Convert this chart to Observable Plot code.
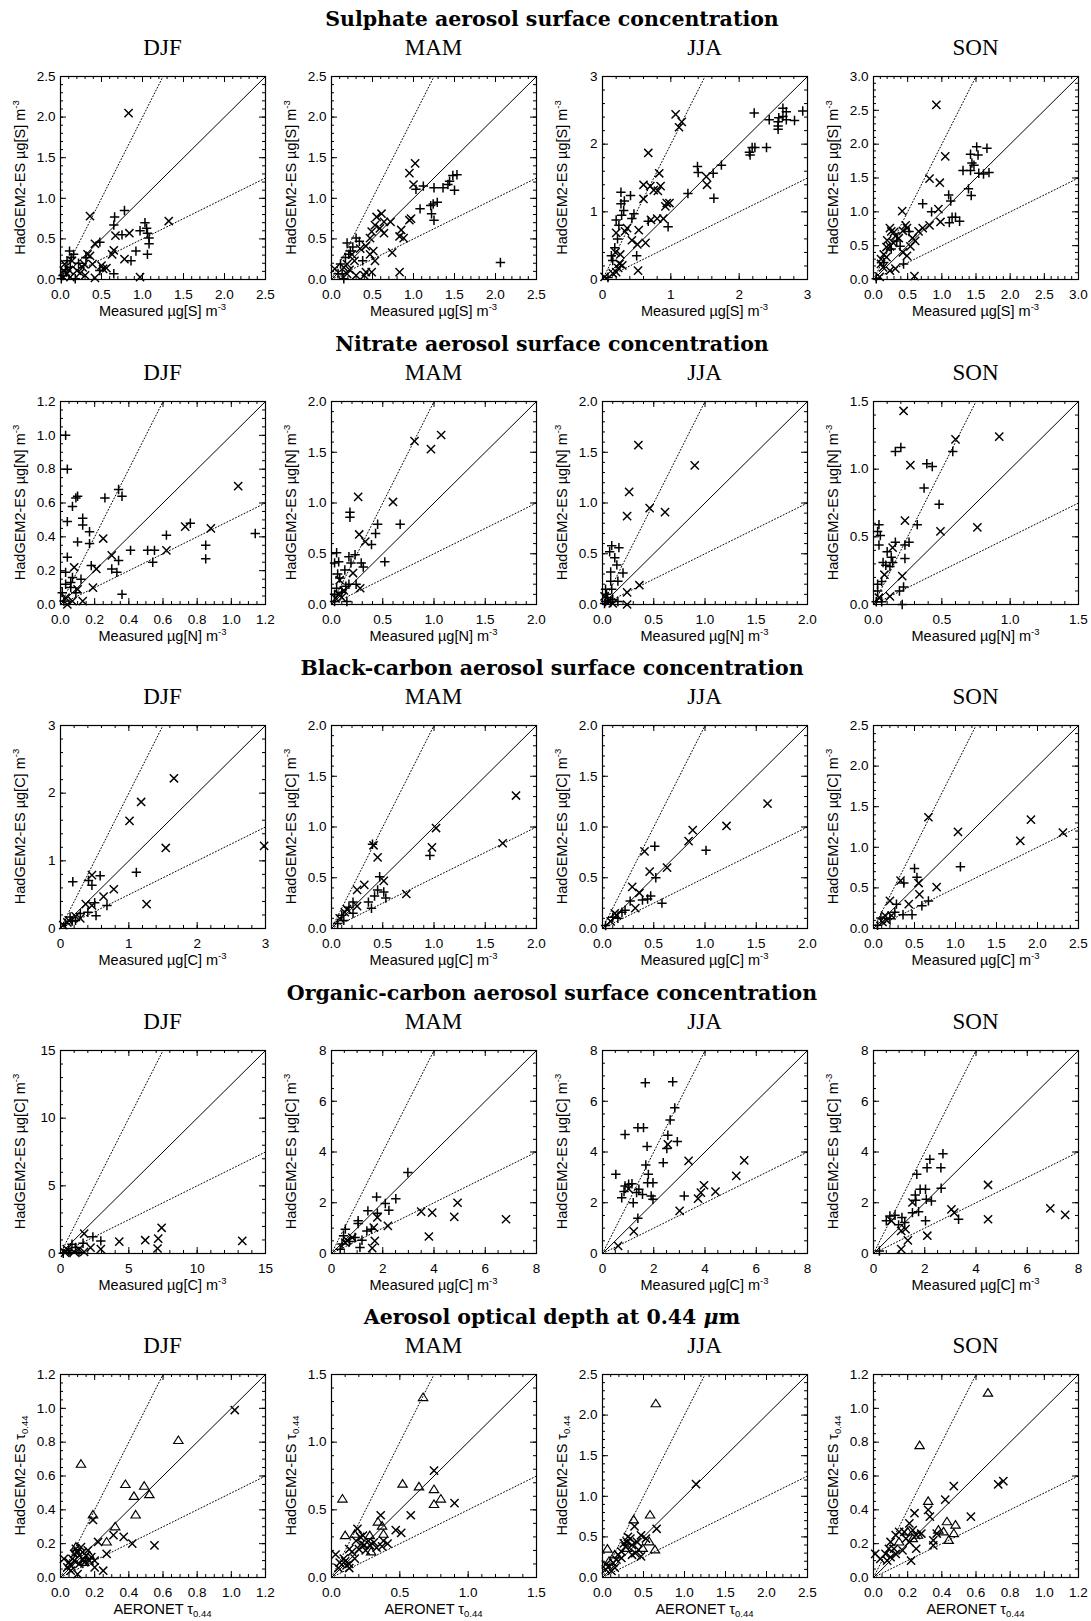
<!DOCTYPE html>
<html><head><meta charset="utf-8">
<script src="https://cdn.jsdelivr.net/npm/d3@7"></script>
<script src="https://cdn.jsdelivr.net/npm/@observablehq/plot@0.6"></script>
<style>
body{margin:0;background:#fff;}
#fig{position:relative;width:1091px;height:1621px;overflow:hidden;background:#fff;}
.rtitle{position:absolute;transform:translateX(-50%);white-space:nowrap;font-family:"DejaVu Serif",serif;font-weight:bold;font-size:20.5px;line-height:20px;color:#000;}
.season{position:absolute;transform:translateX(-50%);white-space:nowrap;font-family:"Liberation Serif",serif;font-size:23px;line-height:23px;color:#000;}
.panel{position:absolute;}
</style></head><body><div id="fig"></div>
<script>
// ---------- text ----------
const seasons = ["DJF", "MAM", "JJA", "SON"];
const rowTitles = [
  "Sulphate aerosol surface concentration",
  "Nitrate aerosol surface concentration",
  "Black-carbon aerosol surface concentration",
  "Organic-carbon aerosol surface concentration",
  "Aerosol optical depth at 0.44 <i>μ</i>m"
];
const rowSpecies = ["S", "N", "C", "C", null];

// ---------- axes (max, major step, minor step, label decimals) ----------
const axisMax   = [[2.5, 2.5, 3, 3], [1.2, 2, 2, 1.5], [3, 2, 2, 2.5], [15, 8, 8, 8], [1.2, 1.5, 2.5, 1.2]];
const majorStep = [[0.5, 0.5, 1, 0.5], [0.2, 0.5, 0.5, 0.5], [1, 0.5, 0.5, 0.5], [5, 2, 2, 2], [0.2, 0.5, 0.5, 0.2]];
const minorStep = [[0.1, 0.1, 0.2, 0.1], [0.05, 0.1, 0.1, 0.1], [0.2, 0.1, 0.1, 0.1], [1, 0.5, 0.5, 0.5], [0.05, 0.1, 0.1, 0.05]];
const tickDecimals = [[1, 1, 0, 1], [1, 1, 1, 1], [0, 1, 1, 1], [0, 0, 0, 0], [1, 1, 1, 1]];

// ---------- data: [measured, model] ----------
// Sulphate
const so4DjfPlus = [[0.78,0.85],[0.66,0.77],[0.65,0.67],[1.03,0.70],[1.05,0.63],[1.06,0.57],[1.08,0.51],[1.08,0.44],[1.06,0.31],[0.92,0.35],[0.97,0.60],[0.75,0.55],[0.48,0.46],[0.86,0.23],[0.65,0.07],[0.11,0.35],[0.16,0.31],[0.08,0.23],[0.12,0.15],[0.31,0.27],[0.03,0.05],[0.01,0.01],[0.18,0.01],[0.48,0.11],[0.13,0.27],[0.06,0.12],[0.22,0.20]];
const so4DjfTimes = [[0.83,2.05],[0.36,0.78],[1.32,0.72],[0.84,0.57],[0.67,0.54],[0.42,0.44],[0.65,0.36],[0.63,0.31],[0.78,0.25],[0.50,0.17],[0.56,0.14],[0.97,0.03],[0.05,0.19],[0.14,0.23],[0.29,0.19],[0.36,0.29],[0.33,0.31],[0.39,0.19],[0.27,0.15],[0.20,0.11],[0.08,0.07],[0.12,0.03],[0.04,0.11],[0.42,0.02],[0.52,0.13],[0.24,0.08],[0.10,0.12],[0.30,0.05]];
const so4MamPlus = [[1.03,1.11],[1.12,1.15],[1.25,1.13],[1.36,1.13],[1.42,1.17],[1.44,1.21],[1.48,1.28],[1.53,1.29],[1.50,1.10],[1.29,0.95],[1.24,0.93],[1.21,0.91],[1.08,0.87],[1.22,0.81],[1.25,0.73],[2.06,0.21],[0.30,0.51],[0.34,0.47],[0.23,0.35],[0.38,0.23],[0.11,0.19],[0.17,0.27],[0.21,0.31],[0.13,0.07],[0.08,0.07],[0.15,0.01],[0.26,0.40],[0.19,0.45]];
const so4MamTimes = [[1.02,1.43],[0.95,1.31],[1.00,1.17],[0.95,0.73],[0.97,0.75],[0.72,0.71],[0.85,0.61],[0.83,0.53],[0.88,0.51],[0.74,0.33],[0.83,0.09],[0.61,0.81],[0.55,0.77],[0.64,0.71],[0.59,0.63],[0.64,0.57],[0.53,0.67],[0.49,0.59],[0.47,0.51],[0.42,0.41],[0.51,0.35],[0.53,0.23],[0.47,0.31],[0.25,0.31],[0.42,0.09],[0.49,0.09],[0.40,0.05],[0.15,0.15],[0.19,0.19],[0.28,0.23],[0.19,0.07],[0.04,0.13],[0.30,0.05],[0.22,0.12],[0.35,0.38]];
const so4JjaPlus = [[2.22,2.46],[2.64,2.53],[2.69,2.48],[2.64,2.41],[2.58,2.39],[2.57,2.33],[2.57,2.27],[2.57,2.22],[2.69,2.36],[2.81,2.35],[2.93,2.49],[2.44,2.36],[2.16,1.84],[2.19,1.95],[2.23,1.95],[2.40,1.95],[2.15,1.88],[1.39,1.67],[1.40,1.58],[1.74,1.69],[1.62,1.57],[1.63,1.20],[1.25,1.27],[0.96,0.78],[0.41,1.24],[0.32,1.16],[0.27,1.29],[0.27,1.12],[0.67,0.86],[0.50,0.35],[0.46,0.97],[0.43,0.90],[0.28,0.95],[0.24,0.80],[0.20,0.88],[0.31,1.02],[0.18,0.47],[0.13,0.35],[0.15,0.28],[0.08,0.03],[0.22,0.60]];
const so4JjaTimes = [[1.07,2.44],[1.12,2.25],[1.16,2.33],[0.67,1.87],[1.52,1.52],[1.53,1.40],[0.94,1.13],[0.98,1.13],[0.92,1.08],[0.85,1.38],[0.81,1.31],[0.75,1.32],[0.83,1.57],[0.60,1.40],[0.70,1.38],[0.60,1.19],[0.89,0.90],[0.80,0.90],[0.71,0.88],[0.63,0.54],[0.52,0.13],[0.53,0.73],[0.20,0.69],[0.36,0.76],[0.33,0.71],[0.43,0.58],[0.51,0.52],[0.19,0.40],[0.26,0.37],[0.25,0.23],[0.29,0.21],[0.23,0.17],[0.20,0.11],[0.15,0.09],[0.03,0.04]];
const so4SonPlus = [[1.51,1.96],[1.66,1.94],[1.42,1.85],[1.53,1.84],[1.44,1.72],[1.47,1.69],[1.31,1.61],[1.42,1.61],[1.69,1.58],[1.54,1.57],[1.61,1.56],[1.39,1.34],[1.43,1.24],[1.10,1.25],[0.72,1.12],[1.13,1.16],[0.85,1.00],[1.15,0.92],[1.20,0.92],[1.11,0.84],[1.26,0.86],[0.52,0.71],[0.44,0.23],[0.15,0.25],[0.34,0.57],[0.26,0.45],[0.39,0.49],[0.04,0.01]];
const so4SonTimes = [[0.92,2.58],[1.05,1.82],[0.82,1.49],[0.97,1.43],[0.95,1.04],[0.98,0.85],[0.82,0.80],[0.72,0.76],[0.66,0.71],[0.57,0.61],[0.61,0.57],[0.54,0.49],[0.42,1.01],[0.47,0.80],[0.49,0.76],[0.43,0.72],[0.49,0.35],[0.43,0.40],[0.60,0.05],[0.24,0.76],[0.26,0.71],[0.32,0.64],[0.37,0.61],[0.29,0.54],[0.24,0.49],[0.19,0.48],[0.15,0.37],[0.11,0.30],[0.11,0.23],[0.19,0.33],[0.14,0.18],[0.24,0.13],[0.32,0.16],[0.09,0.04],[0.30,0.70],[0.20,0.58]];
// Nitrate
const nitDjfPlus = [[0.03,1.00],[0.04,0.80],[0.09,0.63],[0.10,0.64],[0.07,0.58],[0.04,0.49],[0.13,0.51],[0.13,0.47],[0.26,0.63],[0.34,0.68],[0.36,0.64],[0.10,0.37],[0.17,0.43],[0.17,0.36],[0.04,0.28],[0.03,0.19],[0.07,0.16],[0.12,0.15],[0.18,0.23],[0.30,0.21],[0.33,0.19],[0.34,0.26],[0.41,0.32],[0.51,0.32],[0.55,0.32],[0.54,0.25],[0.62,0.41],[0.76,0.48],[0.85,0.35],[0.85,0.27],[1.14,0.42],[0.36,0.06],[0.02,0.02],[0.01,0.07],[0.03,0.12],[0.06,0.10],[0.09,0.07],[0.06,0.13]];
const nitDjfTimes = [[0.25,0.39],[0.08,0.22],[0.21,0.21],[0.19,0.10],[0.30,0.29],[0.62,0.32],[0.73,0.46],[0.88,0.45],[1.04,0.70],[0.03,0.04],[0.07,0.02],[0.13,0.02],[0.04,0.00],[0.10,0.09]];
const nitMamPlus = [[0.18,0.91],[0.18,0.86],[0.67,0.79],[0.45,0.79],[0.43,0.70],[0.39,0.59],[0.52,0.42],[0.05,0.51],[0.07,0.42],[0.03,0.41],[0.17,0.47],[0.23,0.49],[0.19,0.41],[0.29,0.41],[0.31,0.37],[0.08,0.26],[0.13,0.34],[0.14,0.18],[0.17,0.20],[0.05,0.16],[0.03,0.03],[0.15,0.03],[0.24,0.20],[0.03,0.10],[0.06,0.30],[0.10,0.12]];
const nitMamTimes = [[0.81,1.61],[0.97,1.53],[1.07,1.67],[0.26,1.06],[0.60,1.01],[0.27,0.69],[0.33,0.62],[0.08,0.24],[0.21,0.31],[0.28,0.16],[0.07,0.10],[0.10,0.07],[0.04,0.06],[0.12,0.14]];
const nitJjaPlus = [[0.07,0.52],[0.09,0.58],[0.16,0.56],[0.12,0.46],[0.14,0.39],[0.08,0.32],[0.08,0.23],[0.15,0.23],[0.09,0.15],[0.20,0.31],[0.03,0.15],[0.05,0.07],[0.03,0.03],[0.08,0.02],[0.15,0.03],[0.04,0.10],[0.10,0.05],[0.02,0.01]];
const nitJjaTimes = [[0.35,1.57],[0.26,1.11],[0.24,0.87],[0.46,0.95],[0.61,0.91],[0.90,1.37],[0.36,0.19],[0.24,0.12],[0.24,0.00],[0.02,0.08],[0.06,0.04],[0.10,0.01]];
const nitSonPlus = [[0.16,1.13],[0.20,1.16],[0.39,1.04],[0.43,1.02],[0.37,0.86],[0.58,1.13],[0.48,0.74],[0.32,0.59],[0.04,0.59],[0.03,0.54],[0.05,0.51],[0.04,0.44],[0.10,0.39],[0.13,0.35],[0.16,0.46],[0.23,0.44],[0.26,0.46],[0.23,0.34],[0.09,0.29],[0.07,0.31],[0.06,0.17],[0.22,0.13],[0.19,0.10],[0.21,0.00],[0.03,0.15],[0.03,0.10],[0.02,0.02],[0.06,0.02],[0.12,0.28],[0.14,0.31]];
const nitSonTimes = [[0.22,1.43],[0.27,1.03],[0.60,1.22],[0.92,1.24],[0.23,0.62],[0.49,0.54],[0.76,0.57],[0.14,0.42],[0.08,0.22],[0.21,0.21],[0.04,0.05],[0.12,0.06]];
// Black carbon
const bcDjfPlus = [[1.11,0.83],[0.18,0.69],[0.41,0.71],[0.46,0.64],[0.58,0.78],[0.68,0.34],[0.52,0.19],[0.50,0.38],[0.29,0.22],[0.14,0.17],[0.07,0.07],[0.17,0.11],[0.40,0.24],[0.22,0.12]];
const bcDjfTimes = [[1.66,2.22],[1.18,1.87],[1.01,1.59],[1.54,1.19],[1.26,0.36],[2.98,1.22],[0.78,0.58],[0.46,0.79],[0.63,0.47],[0.46,0.34],[0.37,0.36],[0.22,0.18],[0.12,0.12],[0.04,0.05],[0.29,0.15],[0.10,0.09]];
const bcMamPlus = [[0.96,0.72],[0.40,0.83],[0.47,0.51],[0.51,0.36],[0.45,0.38],[0.53,0.30],[0.42,0.32],[0.36,0.26],[0.39,0.20],[0.21,0.26],[0.17,0.21],[0.21,0.15],[0.10,0.13],[0.12,0.08],[0.06,0.05]];
const bcMamTimes = [[1.80,1.31],[1.67,0.84],[1.02,0.99],[0.98,0.80],[0.73,0.34],[0.41,0.82],[0.45,0.70],[0.51,0.47],[0.32,0.43],[0.25,0.38],[0.25,0.22],[0.15,0.19],[0.08,0.10],[0.13,0.16]];
const bcJjaPlus = [[1.01,0.77],[0.52,0.50],[0.51,0.81],[0.44,0.29],[0.47,0.32],[0.39,0.28],[0.58,0.25],[0.27,0.27],[0.19,0.16],[0.10,0.11],[0.15,0.10],[0.03,0.03],[0.22,0.18]];
const bcJjaTimes = [[1.61,1.23],[1.21,1.01],[0.88,0.97],[0.84,0.86],[0.63,0.60],[0.41,0.76],[0.46,0.56],[0.29,0.41],[0.36,0.35],[0.32,0.20],[0.14,0.13],[0.12,0.15],[0.08,0.07]];
const bcSonPlus = [[1.06,0.76],[0.37,0.56],[0.50,0.74],[0.53,0.63],[0.59,0.28],[0.67,0.34],[0.47,0.17],[0.36,0.17],[0.26,0.20],[0.28,0.30],[0.09,0.13],[0.20,0.12],[0.05,0.04]];
const bcSonTimes = [[0.67,1.37],[1.03,1.19],[1.92,1.34],[1.79,1.08],[2.31,1.18],[0.77,0.51],[0.33,0.59],[0.55,0.56],[0.56,0.42],[0.43,0.30],[0.20,0.34],[0.14,0.16],[0.16,0.10],[0.11,0.08],[0.22,0.16]];
// Organic carbon
const ocDjfPlus = [[2.37,1.23],[2.95,0.93],[1.65,0.76],[0.84,0.69],[1.10,0.44],[0.60,0.20],[0.70,0.07],[1.35,0.07],[0.20,0.02]];
const ocDjfTimes = [[13.3,0.93],[7.4,1.9],[7.15,1.1],[7.1,0.37],[6.2,0.98],[4.3,0.88],[1.73,1.47],[2.95,0.32],[2.2,0.44],[1.35,0.32],[0.33,0.07],[1.0,0.12],[1.73,0.12],[0.46,0.32]];
const ocMamPlus = [[2.98,3.19],[2.51,2.16],[2.24,1.70],[2.10,1.97],[1.76,2.23],[1.79,1.59],[1.42,1.68],[1.56,0.96],[1.38,0.89],[1.04,1.29],[1.04,1.18],[1.19,0.52],[1.11,0.24],[0.54,0.96],[0.47,0.70],[0.70,0.47],[0.92,0.63],[0.41,0.37],[0.34,0.17]];
const ocMamTimes = [[6.81,1.35],[4.92,2.0],[4.79,1.44],[3.93,1.61],[3.5,1.65],[3.8,0.67],[2.2,1.09],[1.79,1.42],[1.65,1.02],[1.69,0.5],[1.59,0.21],[0.61,0.52],[0.81,0.63],[0.54,0.43]];
const ocJjaPlus = [[1.67,6.73],[2.74,6.77],[2.82,5.74],[2.64,5.26],[2.55,4.66],[2.51,4.14],[2.92,4.41],[1.38,4.96],[1.60,4.96],[0.88,4.69],[1.74,4.22],[2.37,3.58],[1.69,3.49],[1.79,3.12],[1.76,2.79],[1.97,2.79],[0.52,3.12],[0.88,2.66],[1.02,2.73],[1.15,2.75],[0.84,2.44],[0.75,2.20],[1.42,2.53],[1.33,2.40],[1.56,2.33],[1.90,2.27],[1.97,2.14],[1.20,2.00],[1.38,1.39],[3.19,2.27]];
const ocJjaTimes = [[2.55,4.30],[1.22,0.87],[0.61,0.30],[3.36,3.65],[3.01,1.68],[3.73,2.16],[3.84,2.40],[3.96,2.69],[4.41,2.44],[5.22,3.06],[5.53,3.67],[1.02,2.55]];
const ocSonPlus = [[2.71,3.93],[2.20,3.71],[2.09,3.38],[2.63,3.38],[1.69,3.12],[2.64,2.57],[1.82,2.53],[2.03,2.53],[2.06,2.14],[2.26,2.07],[1.63,2.31],[1.65,2.10],[1.52,1.61],[1.76,1.65],[2.03,1.29],[3.32,1.35],[0.50,1.29],[0.64,1.48],[0.84,1.51],[0.98,1.13],[1.11,1.42],[1.22,1.22],[0.23,0.10]];
const ocSonTimes = [[1.52,2.01],[2.10,0.70],[3.04,1.74],[3.15,1.61],[4.47,2.70],[4.47,1.35],[6.90,1.78],[7.48,1.52],[0.70,1.29],[1.08,0.89],[1.25,0.96],[1.34,0.52],[1.08,0.17]];
// Aerosol optical depth
const aodDjfTimes = [[1.02,0.99],[0.19,0.34],[0.31,0.25],[0.37,0.24],[0.42,0.20],[0.55,0.19],[0.27,0.14],[0.22,0.21],[0.25,0.04],[0.20,0.10],[0.20,0.06],[0.09,0.17],[0.11,0.13],[0.13,0.15],[0.15,0.13],[0.08,0.10],[0.06,0.07],[0.06,0.04],[0.04,0.06],[0.07,0.11],[0.17,0.10],[0.14,0.09],[0.02,0.11],[0.10,0.02],[0.12,0.18],[0.16,0.16],[0.10,0.15],[0.13,0.11],[0.18,0.12],[0.05,0.09],[0.08,0.14],[0.11,0.08]];
const aodDjfTri = [[0.69,0.81],[0.12,0.67],[0.38,0.55],[0.49,0.54],[0.52,0.49],[0.43,0.48],[0.44,0.37],[0.19,0.37],[0.32,0.30],[0.27,0.21],[0.14,0.09],[0.17,0.13],[0.09,0.18]];
const aodMamTimes = [[0.75,0.79],[0.90,0.55],[0.58,0.46],[0.36,0.46],[0.47,0.35],[0.51,0.33],[0.38,0.27],[0.41,0.25],[0.37,0.23],[0.03,0.17],[0.18,0.27],[0.22,0.25],[0.24,0.24],[0.20,0.21],[0.27,0.27],[0.31,0.26],[0.19,0.36],[0.23,0.31],[0.28,0.24],[0.25,0.20],[0.15,0.19],[0.13,0.21],[0.09,0.14],[0.10,0.12],[0.06,0.11],[0.13,0.10],[0.17,0.14],[0.13,0.07],[0.05,0.07],[0.11,0.09],[0.21,0.30],[0.33,0.22]];
const aodMamTri = [[0.67,1.33],[0.08,0.58],[0.52,0.69],[0.64,0.67],[0.75,0.65],[0.75,0.54],[0.80,0.58],[0.34,0.41],[0.37,0.38],[0.38,0.32],[0.10,0.31],[0.17,0.32],[0.28,0.31],[0.29,0.19]];
const aodJjaTimes = [[1.14,1.15],[0.66,0.60],[0.39,0.63],[0.47,0.52],[0.53,0.48],[0.42,0.44],[0.44,0.34],[0.34,0.48],[0.30,0.44],[0.28,0.38],[0.23,0.32],[0.19,0.28],[0.36,0.40],[0.17,0.22],[0.13,0.18],[0.08,0.14],[0.04,0.10],[0.15,0.12],[0.11,0.08],[0.04,0.16],[0.23,0.24],[0.40,0.30],[0.47,0.26],[0.36,0.28],[0.26,0.42],[0.31,0.50]];
const aodJjaTri = [[0.65,2.14],[0.58,0.77],[0.38,0.71],[0.06,0.35],[0.64,0.34],[0.57,0.44],[0.49,0.36],[0.30,0.36],[0.08,0.20],[0.15,0.28]];
const aodSonTimes = [[0.76,0.57],[0.73,0.55],[0.47,0.54],[0.42,0.46],[0.57,0.36],[0.32,0.40],[0.33,0.36],[0.24,0.38],[0.35,0.22],[0.35,0.19],[0.37,0.26],[0.22,0.10],[0.25,0.17],[0.01,0.14],[0.21,0.32],[0.23,0.28],[0.18,0.27],[0.15,0.27],[0.13,0.25],[0.19,0.23],[0.25,0.25],[0.28,0.26],[0.10,0.21],[0.09,0.17],[0.07,0.14],[0.10,0.12],[0.13,0.14],[0.17,0.16],[0.08,0.10],[0.04,0.11],[0.21,0.21],[0.12,0.17]];
const aodSonTri = [[0.67,1.09],[0.27,0.78],[0.32,0.45],[0.43,0.33],[0.48,0.31],[0.47,0.26],[0.44,0.22],[0.38,0.28],[0.41,0.27],[0.26,0.25],[0.23,0.23],[0.20,0.27],[0.15,0.21]];

// panel table built from the named arrays: [plus, times, triangles]
const panels = [
  [[so4DjfPlus, so4DjfTimes, []], [so4MamPlus, so4MamTimes, []], [so4JjaPlus, so4JjaTimes, []], [so4SonPlus, so4SonTimes, []]],
  [[nitDjfPlus, nitDjfTimes, []], [nitMamPlus, nitMamTimes, []], [nitJjaPlus, nitJjaTimes, []], [nitSonPlus, nitSonTimes, []]],
  [[bcDjfPlus, bcDjfTimes, []], [bcMamPlus, bcMamTimes, []], [bcJjaPlus, bcJjaTimes, []], [bcSonPlus, bcSonTimes, []]],
  [[ocDjfPlus, ocDjfTimes, []], [ocMamPlus, ocMamTimes, []], [ocJjaPlus, ocJjaTimes, []], [ocSonPlus, ocSonTimes, []]],
  [[[], aodDjfTimes, aodDjfTri], [[], aodMamTimes, aodMamTri], [[], aodJjaTimes, aodJjaTri], [[], aodSonTimes, aodSonTri]]
];

// ---------- layout ----------
const colLeft = [60, 331, 602, 873];
const rowTop = [76, 401, 725, 1050, 1374];
const FW = 205, FH = 203;
const ML = 55, MT = 8, MR = 11, MB = 40;
const FONT = "Liberation Sans, Arial, Helvetica, sans-serif";

// marker shapes (r = half size in px)
const symPlus = {draw(c, s) { const r = Math.sqrt(s / Math.PI); c.moveTo(-r, 0); c.lineTo(r, 0); c.moveTo(0, -r); c.lineTo(0, r); }};
const symTimes = {draw(c, s) { const r = Math.sqrt(s / Math.PI); c.moveTo(-r, -r); c.lineTo(r, r); c.moveTo(-r, r); c.lineTo(r, -r); }};
const symTri = {draw(c, s) { const r = Math.sqrt(s / Math.PI); c.moveTo(0, -r * 0.95); c.lineTo(r, r * 0.65); c.lineTo(-r, r * 0.65); c.closePath(); }};

const fig = document.getElementById("fig");

function addLabel(parent, x, y, main, script, isSup, rotate) {
  const t = parent.append("text")
    .attr("font-family", FONT).attr("font-size", 14.5).attr("fill", "black")
    .attr("text-anchor", "middle");
  if (rotate) t.attr("transform", `translate(${x},${y}) rotate(-90)`);
  else t.attr("x", x).attr("y", y);
  t.append("tspan").text(main);
  t.append("tspan").attr("font-size", 9.5).attr("dy", isSup ? -6 : 3).text(script);
}

for (let r = 0; r < 5; r++) {
  const td = document.createElement("div");
  td.className = "rtitle";
  td.innerHTML = rowTitles[r];
  td.style.left = "552px";
  td.style.top = (rowTop[r] - 57 - 10) + "px";
  fig.appendChild(td);

  for (let c = 0; c < 4; c++) {
    const sd = document.createElement("div");
    sd.className = "season";
    sd.textContent = seasons[c];
    sd.style.left = (colLeft[c] + FW / 2) + "px";
    sd.style.top = (rowTop[r] - 29 - 11.5) + "px";
    fig.appendChild(sd);

    const M = axisMax[r][c];
    const major = d3.range(0, M + 1e-9, majorStep[r][c]);
    const minor = d3.range(0, M + 1e-9, minorStep[r][c]);
    const dec = tickDecimals[r][c];
    const [plus, times, tri] = panels[r][c];
    const oneToOne = [[0, 0], [M, M]];
    const factor2 = [[0, 0], [M / 2, M]];
    const factorHalf = [[0, 0], [M, M / 2]];
    const px = d => d[0], py = d => d[1];

    const svg = Plot.plot({
      width: ML + FW + MR, height: MT + FH + MB,
      marginLeft: ML, marginTop: MT, marginRight: MR, marginBottom: MB,
      style: {fontFamily: FONT, fontSize: "13.5px", background: "transparent", overflow: "visible", color: "black"},
      x: {domain: [0, M]},
      y: {domain: [0, M]},
      marks: [
        Plot.line(oneToOne, {x: px, y: py, stroke: "black", strokeWidth: 1}),
        Plot.line(factor2, {x: px, y: py, stroke: "black", strokeWidth: 1, strokeDasharray: "1,2.2"}),
        Plot.line(factorHalf, {x: px, y: py, stroke: "black", strokeWidth: 1, strokeDasharray: "1,2.2"}),
        Plot.dot(plus, {x: px, y: py, symbol: symPlus, r: 4.7, stroke: "black", fill: "none", strokeWidth: 1.5}),
        Plot.dot(times, {x: px, y: py, symbol: symTimes, r: 4.1, stroke: "black", fill: "none", strokeWidth: 1.45}),
        Plot.dot(tri, {x: px, y: py, symbol: symTri, r: 4.7, stroke: "black", fill: "none", strokeWidth: 1.15}),
        // inward ticks on all four sides
        Plot.ruleX(major, {x: d => d, insetTop: FH - 6, stroke: "black"}),
        Plot.ruleX(major, {x: d => d, insetBottom: FH - 6, stroke: "black"}),
        Plot.ruleY(major, {y: d => d, insetRight: FW - 6, stroke: "black"}),
        Plot.ruleY(major, {y: d => d, insetLeft: FW - 6, stroke: "black"}),
        Plot.ruleX(minor, {x: d => d, insetTop: FH - 3, stroke: "black"}),
        Plot.ruleX(minor, {x: d => d, insetBottom: FH - 3, stroke: "black"}),
        Plot.ruleY(minor, {y: d => d, insetRight: FW - 3, stroke: "black"}),
        Plot.ruleY(minor, {y: d => d, insetLeft: FW - 3, stroke: "black"}),
        Plot.axisX(major, {anchor: "bottom", tickSize: 0, tickPadding: 10, tickFormat: d => d.toFixed(dec), label: null, fontSize: 13.5, fill: "black"}),
        Plot.axisY(major, {anchor: "left", tickSize: 0, tickPadding: 5, tickFormat: d => d.toFixed(dec), label: null, fontSize: 13.5, fill: "black"}),
        Plot.frame({stroke: "black", strokeWidth: 1.2})
      ]
    });
    svg.classList.add("panel");
    svg.style.left = (colLeft[c] - ML) + "px";
    svg.style.top = (rowTop[r] - MT) + "px";
    svg.style.position = "absolute";
    svg.style.maxWidth = "none";

    const s = d3.select(svg);
    if (r < 4) {
      addLabel(s, ML + FW / 2, MT + FH + 37, `Measured µg[${rowSpecies[r]}] m`, "-3", true, false);
      addLabel(s, ML - 35, MT + FH / 2, `HadGEM2-ES µg[${rowSpecies[r]}] m`, "-3", true, true);
    } else {
      addLabel(s, ML + FW / 2, MT + FH + 37, "AERONET τ", "0.44", false, false);
      addLabel(s, ML - 35, MT + FH / 2, "HadGEM2-ES τ", "0.44", false, true);
    }
    fig.appendChild(svg);
  }
}
</script></body></html>
